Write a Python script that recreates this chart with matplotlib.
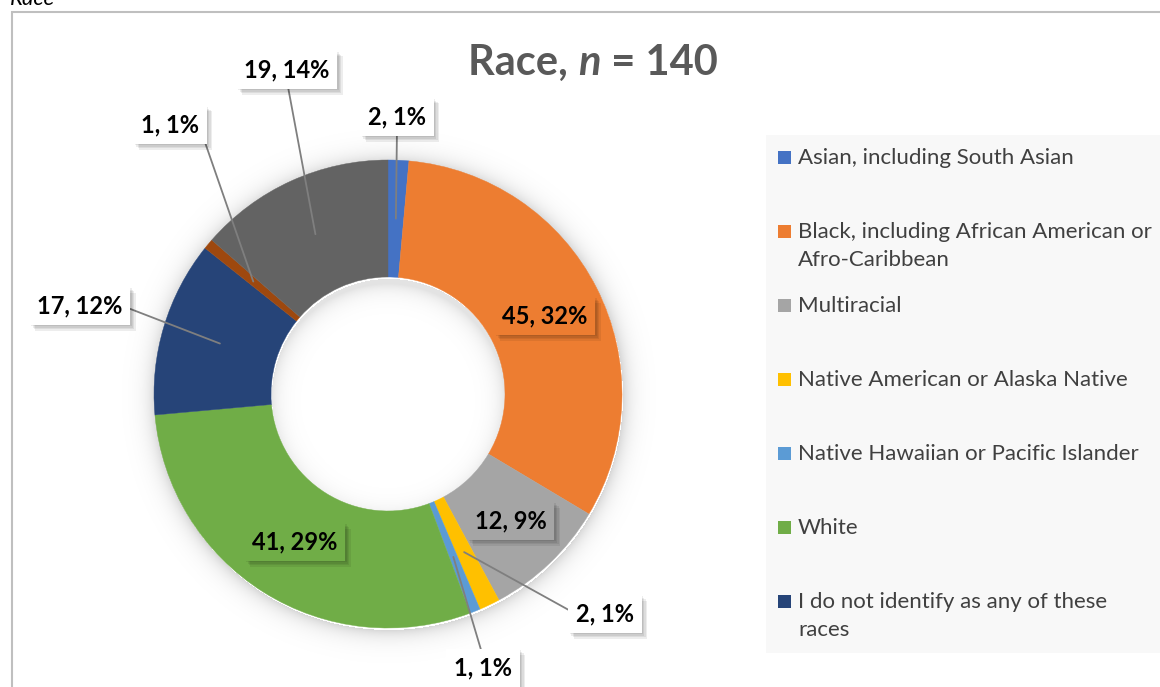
import numpy as np
import matplotlib
matplotlib.use("Agg")
import matplotlib.pyplot as plt
from matplotlib import patheffects as pe
from matplotlib.patches import Rectangle

W, H = 1160, 687
FONT = "Lato"

# ---------------- data ----------------
categories = ["Asian, including South Asian",
              "Black, including African American or\nAfro-Caribbean",
              "Multiracial",
              "Native American or Alaska Native",
              "Native Hawaiian or Pacific Islander",
              "White",
              "I do not identify as any of these\nraces",
              "Other (legend entry not visible)",
              "Other (legend entry not visible)"]
counts = [2, 45, 12, 2, 1, 41, 17, 1, 19]
colors = ["#4472C4", "#ED7D31", "#A5A5A5", "#FFC000", "#5B9BD5",
          "#70AD47", "#264478", "#9E480E", "#636363"]
n_legend = 7
total = sum(counts)

# label placement (pixels, top-left origin), inside ring or not, leader start on box
label_pos = [(397, 117), (545, 316), (511, 521), (605, 614), (483, 668),
             (295, 542), (80, 306), (170, 125), (287, 70)]
label_inside = [False, True, True, False, False, True, False, False, False]
leader_rel = [(0.5, 0), None, None, (0, 0.5), (0.5, 1), None, (1, 0.5), (1, 0.5), (0.5, 0)]

py = lambda y: H - y
cx, cy, R, r = 388, 394, 234, 117

fig = plt.figure(figsize=(W / 100, H / 100), dpi=100)
ax = fig.add_axes([0, 0, 1, 1])
ax.set_xlim(0, W)
ax.set_ylim(0, H)

# soft shadows (outer around ring, inner at top of the hole)
x0, x1, y0, y1 = 110, 670, 120, 680
xx, yy = np.meshgrid(np.arange(x0, x1) + .5, np.arange(y0, y1) + .5)
d = np.hypot(xx - cx - 1, yy - cy - 2)
d2 = np.hypot(xx - cx, yy - cy - 7)
alpha = np.where(d > R, 0.16 * np.exp(-(d - R) / 9.0), 0.0)
alpha = np.where(d < r, 0.11 * np.exp(-np.clip(r - d2, 0, None) / 9.0), alpha)
img = np.zeros(d.shape + (4,))
img[..., 3] = alpha
ax.imshow(img, extent=[x0, x1, py(y1), py(y0)], origin="upper", zorder=0,
          interpolation="bilinear")

wedges, _ = ax.pie(counts, colors=colors, center=(cx, py(cy)), radius=R,
                   startangle=90, counterclock=False,
                   wedgeprops=dict(width=R - r, linewidth=0))
for w, c in zip(wedges, colors):
    w.set_zorder(2)
    w.set_edgecolor(c)
    w.set_linewidth(0.3)

# data labels (soft shadow built from a few faint offset copies)
shadow = [pe.withSimplePatchShadow(offset=(k, -k), shadow_rgbFace="#000000", alpha=0.07)
          for k in (1, 2, 3, 4)] + [pe.Normal()]
cum = 0
for i, v in enumerate(counts):
    mid = np.deg2rad(90 - (cum + v / 2) / total * 360)
    cum += v
    rm = (R + r) / 2
    ax_pt = (cx + rm * np.cos(mid), py(cy) + rm * np.sin(mid))
    txt = f"{v}, {round(100 * v / total)}%"
    lx, ly = label_pos[i]
    face = colors[i] if label_inside[i] else "white"
    kw = dict(ha="center", va="center", fontsize=17, fontweight="bold", family=FONT,
              color="black", zorder=5,
              bbox=dict(boxstyle="square,pad=0.32", fc=face, ec="none"))
    if label_inside[i]:
        t = ax.text(lx, py(ly), txt, **kw)
    else:
        t = ax.annotate(txt, xy=ax_pt, xytext=(lx, py(ly)), **kw,
                        arrowprops=dict(arrowstyle="-", color="#7F7F7F", lw=1.3,
                                        shrinkA=0, shrinkB=0, relpos=leader_rel[i]))
    t.get_bbox_patch().set_path_effects(shadow)

# title, laid out piece by piece so "n" can be italic
renderer = fig.canvas.get_renderer()
parts = [("Race, ", "normal"), ("n", "italic"), (" = 140", "normal")]
tkw = dict(fontsize=30, fontweight="bold", family=FONT, color="#595959", va="baseline",
           ha="left")
objs = [ax.text(0, py(75), s, style=st, **tkw) for s, st in parts]
widths = [o.get_window_extent(renderer).width for o in objs]
xpos = 593 - sum(widths) / 2
for o, wd in zip(objs, widths):
    o.set_x(xpos)
    xpos += wd

# legend
ax.add_patch(Rectangle((766, py(653)), W - 766, 653 - 135, fc="#F8F8F8", ec="none", zorder=1))
for i in range(n_legend):
    yc = 157 + 74 * i
    ax.add_patch(Rectangle((778, py(yc) - 6.5), 13, 13, fc=colors[i], ec="none", zorder=3))
    for k, line in enumerate(categories[i].split("\n")):
        ax.text(798, py(yc + 7 + 28 * k), line, fontsize=16, family=FONT, color="#404040",
                va="baseline", ha="left", zorder=3)

# frame + cropped heading
ax.plot([12, 12, W], [0, py(12), py(12)], color="#BFBFBF", lw=1.5, zorder=1,
        solid_joinstyle="miter")
ax.text(10, py(5), "Race", fontsize=16, style="italic", family=FONT, color="#000000",
        va="baseline", ha="left")

ax.set_xlim(0, W)
ax.set_ylim(0, H)
ax.set_aspect("equal")
ax.axis("off")
fig.savefig("out.png", dpi=100)
